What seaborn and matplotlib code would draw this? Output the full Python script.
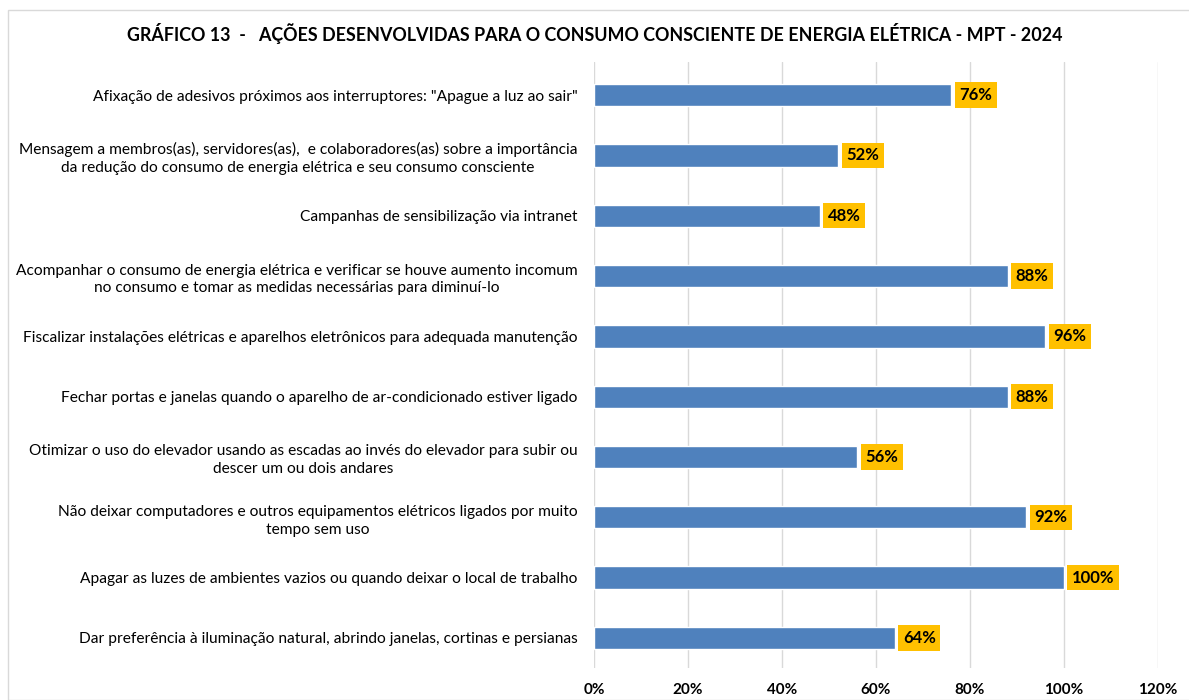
import matplotlib
matplotlib.use("Agg")
import matplotlib.pyplot as plt
import pandas as pd
import seaborn as sns
from matplotlib.patches import Rectangle
from matplotlib.ticker import FuncFormatter

ACTIONS = [
    'Afixação de adesivos próximos aos interruptores: "Apague a luz ao sair"',
    "Mensagem a membros(as), servidores(as),  e colaboradores(as) sobre a importância\nda redução do consumo de energia elétrica e seu consumo consciente",
    "Campanhas de sensibilização via intranet",
    "Acompanhar o consumo de energia elétrica e verificar se houve aumento incomum\nno consumo e tomar as medidas necessárias para diminuí-lo",
    "Fiscalizar instalações elétricas e aparelhos eletrônicos para adequada manutenção",
    "Fechar portas e janelas quando o aparelho de ar-condicionado estiver ligado",
    "Otimizar o uso do elevador usando as escadas ao invés do elevador para subir ou\ndescer um ou dois andares",
    "Não deixar computadores e outros equipamentos elétricos ligados por muito\ntempo sem uso",
    "Apagar as luzes de ambientes vazios ou quando deixar o local de trabalho",
    "Dar preferência à iluminação natural, abrindo janelas, cortinas e persianas",
]
PERCENT = [76, 52, 48, 88, 96, 88, 56, 92, 100, 64]
X_TICKS = [0, 20, 40, 60, 80, 100, 120]

TITLE = "GRÁFICO 13  -   AÇÕES DESENVOLVIDAS PARA O CONSUMO CONSCIENTE DE ENERGIA ELÉTRICA - MPT - 2024"

sns.set_theme(style="white")
plt.rcParams["font.family"] = ["Lato", "DejaVu Sans"]

df = pd.DataFrame({"acao": ACTIONS, "pct": PERCENT})

fig = plt.figure(figsize=(11.89, 7.0), dpi=100)
fig.patches.append(Rectangle((8 / 1189, 0), 1.0, 1 - 10 / 700, transform=fig.transFigure,
                             fill=False, edgecolor="#d9d9d9", linewidth=1.0))
ax = fig.add_axes([594 / 1189, 32 / 700, (1158 - 594) / 1189, (638 - 32) / 700])

sns.barplot(data=df, x="pct", y="acao", orient="h", color="#4F81BD", saturation=1,
            width=0.37, ax=ax)

for i, v in enumerate(PERCENT):
    ax.text(v + 1.7, i, f"{v}%", va="center", ha="left", fontsize=12, fontweight="bold",
            color="black",
            bbox=dict(boxstyle="square,pad=0.28", facecolor="#FFC000", edgecolor="none"))

ax.set_xlim(0, 120)
ax.set_ylim(9.5, -0.55)
ax.set_xticks(X_TICKS)
ax.xaxis.set_major_formatter(FuncFormatter(lambda v, _: f"{v:.0f}%"))
ax.grid(axis="x", color="#d9d9d9", linewidth=1.0)
ax.set_axisbelow(True)
for s in ax.spines.values():
    s.set_visible(False)
ax.set_xlabel("")
ax.set_ylabel("")
ax.tick_params(axis="x", length=0, pad=11, labelsize=11, labelcolor="black")
ax.tick_params(axis="y", length=0, pad=12, labelsize=11.2, labelcolor="black")
for lbl in ax.get_xticklabels():
    lbl.set_fontweight("bold")
for lbl in ax.get_yticklabels():
    lbl.set_multialignment("center")
    lbl.set_linespacing(1.35)

fig.text(0.5, 1 - 33 / 700, TITLE, ha="center", va="center", fontsize=12.9,
         fontweight="bold", color="black")

fig.savefig("out.png", dpi=100)
